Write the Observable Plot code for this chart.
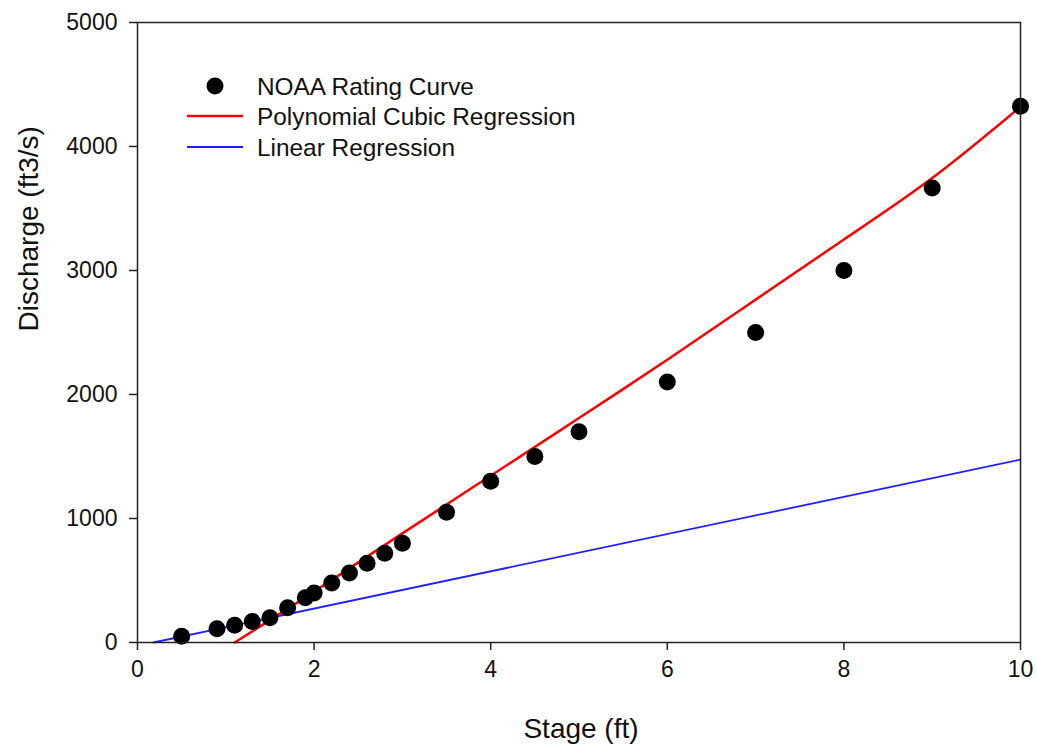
<!DOCTYPE html>
<html>
<head>
<meta charset="utf-8">
<script src="https://cdn.jsdelivr.net/npm/d3@7"></script>
<script src="https://cdn.jsdelivr.net/npm/@observablehq/plot@0.6"></script>
<style>
  html, body { margin: 0; padding: 0; background: #fff; }
  #wrap { position: relative; width: 1037px; height: 746px; }
  #legend { position: absolute; left: 0; top: 0; pointer-events: none; }
</style>
</head>
<body>
<div id="wrap"></div>
<script>
// NOAA rating curve observations
const stage = [0.5, 0.9, 1.1, 1.3, 1.5, 1.7, 1.9, 2.0, 2.2, 2.4, 2.6, 2.8, 3.0, 3.5, 4.0, 4.5, 5.0, 6, 7, 8, 9, 10];
const discharge = [50, 110, 140, 170, 200, 280, 360, 400, 480, 560, 640, 720, 800, 1050, 1300, 1500, 1700, 2100, 2500, 3000, 3665, 4325];

// Polynomial cubic regression curve
const cubicStage = [1.1, 1.5, 2, 3, 4, 5, 6, 7, 8, 9, 10];
const cubicDischarge = [0, 180, 410, 880, 1345, 1810, 2280, 2765, 3250, 3745, 4320];

// Linear regression line
const linearStage = [0.18, 10];
const linearDischarge = [0, 1475];

const xTicks = [0, 2, 4, 6, 8, 10];
const yTicks = [0, 1000, 2000, 3000, 4000, 5000];

const legendLabels = ["NOAA Rating Curve", "Polynomial Cubic Regression", "Linear Regression"];

const points = stage.map((s, i) => ({stage: s, discharge: discharge[i]}));
const cubic = cubicStage.map((s, i) => ({stage: s, discharge: cubicDischarge[i]}));
const linear = linearStage.map((s, i) => ({stage: s, discharge: linearDischarge[i]}));

const RED = "#ff0000";
const BLUE = "#1f1fff";

const chart = Plot.plot({
  width: 1037,
  height: 746,
  marginLeft: 137,
  marginRight: 17,
  marginTop: 22,
  marginBottom: 104,
  style: {fontFamily: "'Liberation Sans', Arial, sans-serif", fontSize: "23px", color: "#111", background: "#fff"},
  x: {domain: [0, 10], label: null},
  y: {domain: [0, 5000], label: null},
  marks: [
    Plot.axisX({ticks: xTicks, tickSize: 8, tickPadding: 10, tickFormat: "d", stroke: "#222", strokeWidth: 1.5, fontSize: 23}),
    Plot.axisY({ticks: yTicks, tickSize: 8, tickPadding: 12, tickFormat: "d", stroke: "#222", strokeWidth: 1.5, fontSize: 23}),
    Plot.line(linear, {x: "stage", y: "discharge", stroke: BLUE, strokeWidth: 1.8}),
    Plot.line(cubic, {x: "stage", y: "discharge", stroke: RED, strokeWidth: 2.5, curve: "natural"}),
    Plot.dot(points, {x: "stage", y: "discharge", r: 8.5, fill: "#000", stroke: "none"}),
    Plot.frame({stroke: "#222", strokeWidth: 1.5}),
    Plot.text(["Stage (ft)"], {frameAnchor: "bottom", lineAnchor: "middle", dx: 2, dy: 87, fontSize: 28, fill: "#111"}),
    Plot.text(["Discharge (ft3/s)"], {frameAnchor: "left", lineAnchor: "middle", dx: -108, dy: -1, rotate: -90, fontSize: 28, fill: "#111"})
  ]
});

const wrap = document.getElementById("wrap");
wrap.appendChild(chart);

// Legend overlay (inside the plot area, top-left)
const lg = d3.create("svg").attr("id", "legend").attr("width", 1037).attr("height", 746)
  .attr("font-family", "'Liberation Sans', Arial, sans-serif");
const rows = [
  {label: legendLabels[0], kind: "dot", color: "#000", y: 86},
  {label: legendLabels[1], kind: "line", color: RED, y: 116, w: 2.5},
  {label: legendLabels[2], kind: "line", color: BLUE, y: 147, w: 1.8}
];
rows.forEach(r => {
  if (r.kind === "dot") {
    lg.append("circle").attr("cx", 215).attr("cy", r.y).attr("r", 8.5).attr("fill", r.color);
  } else {
    lg.append("line").attr("x1", 187).attr("x2", 243).attr("y1", r.y).attr("y2", r.y)
      .attr("stroke", r.color).attr("stroke-width", r.w);
  }
  lg.append("text").attr("x", 257).attr("y", r.y).attr("dy", "0.35em")
    .attr("font-size", 24.4).attr("fill", "#111").text(r.label);
});
wrap.appendChild(lg.node());
</script>
</body>
</html>
